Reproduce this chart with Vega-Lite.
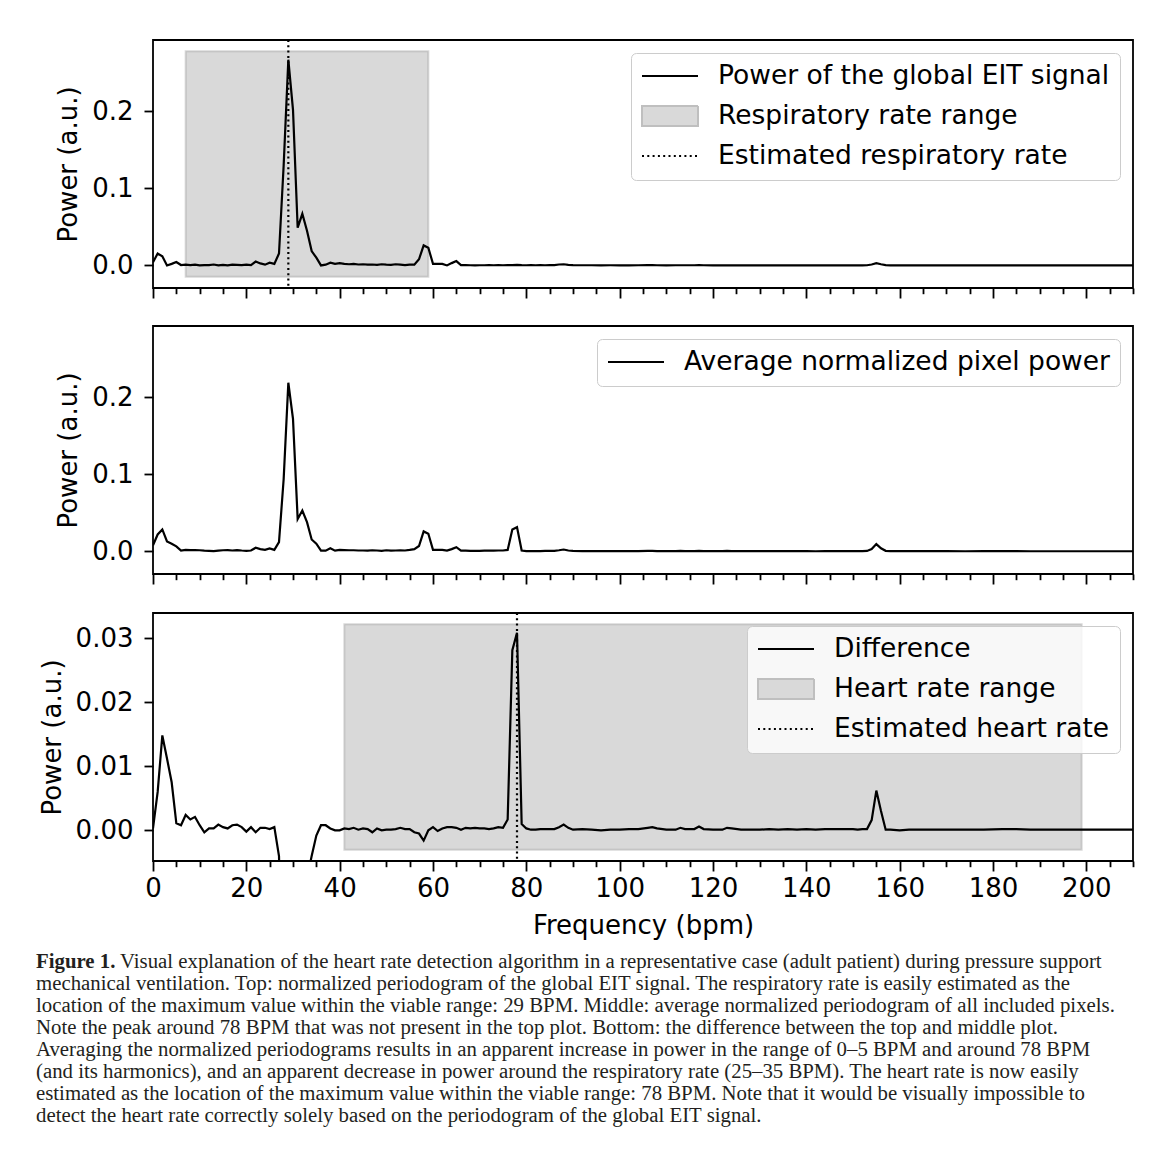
{
  "$schema": "https://vega.github.io/schema/vega-lite/v6.json",
  "background": "white",
  "padding": {"left": 36, "top": 38, "right": 10, "bottom": 10},
  "config": {
    "font": "DejaVu Sans",
    "view": {"stroke": "black", "strokeWidth": 1.8},
    "axis": {"labelFont": "DejaVu Sans", "titleFont": "DejaVu Sans", "labelFontSize": 26, "titleFontSize": 26, "titleFontWeight": "normal", "labelColor": "black", "titleColor": "black", "tickColor": "black", "tickWidth": 1.8, "domain": false, "grid": false},
    "legend": {"labelFont": "DejaVu Sans", "labelFontSize": 26.5, "labelColor": "black", "labelLimit": 1000}
  },
  "datasets": {
    "spec": [
      {"f":0,"g":0.004,"m":0.008,"d":0.0003},
      {"f":1,"g":0.0155,"m":0.022,"d":0.006},
      {"f":2,"g":0.012,"m":0.0285,"d":0.0148},
      {"f":3,"g":0.0,"m":0.013,"d":0.0112},
      {"f":4,"g":0.002,"m":0.010,"d":0.0075},
      {"f":5,"g":0.0045,"m":0.0065,"d":0.0011},
      {"f":6,"g":0.0005,"m":0.001,"d":0.0008},
      {"f":7,"g":0.001,"m":0.002,"d":0.0024},
      {"f":8,"g":0.0005,"m":0.0018,"d":0.0017},
      {"f":9,"g":0.001,"m":0.0017,"d":0.0021},
      {"f":10,"g":0.0,"m":0.0015,"d":0.0008},
      {"f":11,"g":0.0005,"m":0.001,"d":-0.0003},
      {"f":12,"g":0.0003,"m":0.0008,"d":0.0003},
      {"f":13,"g":0.0012,"m":0.0003,"d":0.0003},
      {"f":14,"g":0.0,"m":0.001,"d":0.0009},
      {"f":15,"g":0.0008,"m":0.0015,"d":0.0005},
      {"f":16,"g":0.0002,"m":0.0018,"d":0.0003},
      {"f":17,"g":0.001,"m":0.0012,"d":0.0008},
      {"f":18,"g":0.0007,"m":0.0018,"d":0.0009},
      {"f":19,"g":0.0005,"m":0.0012,"d":0.0005},
      {"f":20,"g":0.001,"m":0.0008,"d":-0.0002},
      {"f":21,"g":0.0005,"m":0.0012,"d":0.0005},
      {"f":22,"g":0.005,"m":0.0047,"d":-0.0003},
      {"f":23,"g":0.0026,"m":0.003,"d":0.0004},
      {"f":24,"g":0.001,"m":0.002,"d":0.0004},
      {"f":25,"g":0.0035,"m":0.004,"d":0.0002},
      {"f":26,"g":0.002,"m":0.002,"d":0.0005},
      {"f":27,"g":0.0155,"m":0.012,"d":-0.004},
      {"f":28,"g":0.13,"m":0.094,"d":-0.036},
      {"f":29,"g":0.267,"m":0.219,"d":-0.048},
      {"f":30,"g":0.202,"m":0.172,"d":-0.03},
      {"f":31,"g":0.049,"m":0.042,"d":-0.007},
      {"f":32,"g":0.067,"m":0.053,"d":-0.014},
      {"f":33,"g":0.045,"m":0.038,"d":-0.0075},
      {"f":34,"g":0.0186,"m":0.0155,"d":-0.004},
      {"f":35,"g":0.01,"m":0.010,"d":-0.0008},
      {"f":36,"g":0.0,"m":0.001,"d":0.0008},
      {"f":37,"g":0.001,"m":0.001,"d":0.0008},
      {"f":38,"g":0.0035,"m":0.004,"d":0.0003},
      {"f":39,"g":0.002,"m":0.001,"d":0.0},
      {"f":40,"g":0.003,"m":0.002,"d":0.0},
      {"f":41,"g":0.002,"m":0.0018,"d":0.0003},
      {"f":42,"g":0.0015,"m":0.0015,"d":0.0002},
      {"f":43,"g":0.002,"m":0.0015,"d":0.0004},
      {"f":44,"g":0.0012,"m":0.0012,"d":0.0001},
      {"f":45,"g":0.0015,"m":0.0012,"d":0.0003},
      {"f":46,"g":0.001,"m":0.001,"d":0.0002},
      {"f":47,"g":0.0012,"m":0.0015,"d":-0.0003},
      {"f":48,"g":0.0008,"m":0.0012,"d":0.0003},
      {"f":49,"g":0.0015,"m":0.0008,"d":0.0},
      {"f":50,"g":0.001,"m":0.0015,"d":0.0001},
      {"f":51,"g":0.0008,"m":0.001,"d":0.0001},
      {"f":52,"g":0.0015,"m":0.0012,"d":0.0002},
      {"f":53,"g":0.001,"m":0.0015,"d":0.0004},
      {"f":54,"g":0.0005,"m":0.0012,"d":0.0002},
      {"f":55,"g":0.001,"m":0.002,"d":0.0002},
      {"f":56,"g":0.001,"m":0.003,"d":-0.0003},
      {"f":57,"g":0.008,"m":0.007,"d":-0.0005},
      {"f":58,"g":0.026,"m":0.026,"d":-0.0016},
      {"f":59,"g":0.023,"m":0.023,"d":0.0},
      {"f":60,"g":0.002,"m":0.002,"d":0.0005},
      {"f":61,"g":0.002,"m":0.002,"d":-0.0001},
      {"f":62,"g":0.002,"m":0.002,"d":0.0003},
      {"f":63,"g":0.0,"m":0.001,"d":0.0005},
      {"f":64,"g":0.003,"m":0.003,"d":0.0005},
      {"f":65,"g":0.0056,"m":0.0055,"d":0.0004},
      {"f":66,"g":0.0005,"m":0.001,"d":0.0001},
      {"f":67,"g":0.0003,"m":0.001,"d":0.0004},
      {"f":68,"g":0.0002,"m":0.0008,"d":0.0003},
      {"f":69,"g":0.0,"m":0.0008,"d":0.0004},
      {"f":70,"g":0.0002,"m":0.0008,"d":0.0003},
      {"f":71,"g":0.0002,"m":0.001,"d":0.0003},
      {"f":72,"g":0.0003,"m":0.001,"d":0.0002},
      {"f":73,"g":0.0002,"m":0.001,"d":0.0003},
      {"f":74,"g":0.0003,"m":0.0012,"d":0.0005},
      {"f":75,"g":0.0002,"m":0.0012,"d":0.0004},
      {"f":76,"g":0.0003,"m":0.002,"d":0.0017},
      {"f":77,"g":0.0004,"m":0.0285,"d":0.0281},
      {"f":78,"g":0.0007,"m":0.0315,"d":0.0308},
      {"f":79,"g":0.0003,"m":0.0012,"d":0.001},
      {"f":80,"g":0.0002,"m":0.0005,"d":0.0003},
      {"f":81,"g":0.0003,"m":0.0005,"d":0.0001},
      {"f":82,"g":0.0002,"m":0.0005,"d":0.0001},
      {"f":83,"g":0.0003,"m":0.0005,"d":0.0002},
      {"f":84,"g":0.0002,"m":0.0006,"d":0.0002},
      {"f":85,"g":0.0003,"m":0.0006,"d":0.0002},
      {"f":86,"g":0.0005,"m":0.0008,"d":0.0002},
      {"f":87,"g":0.0012,"m":0.0015,"d":0.0005},
      {"f":88,"g":0.0015,"m":0.0025,"d":0.0009},
      {"f":89,"g":0.0008,"m":0.0012,"d":0.0004},
      {"f":90,"g":0.0003,"m":0.0006,"d":0.0001},
      {"f":92,"g":0.0002,"m":0.0005,"d":0.0002},
      {"f":94,"g":0.0002,"m":0.0004,"d":0.0001},
      {"f":96,"g":0.0001,"m":0.0004,"d":0.0},
      {"f":98,"g":0.0002,"m":0.0004,"d":0.0001},
      {"f":100,"g":0.0001,"m":0.0003,"d":0.0001},
      {"f":102,"g":0.0001,"m":0.0003,"d":0.0002},
      {"f":104,"g":0.0002,"m":0.0004,"d":0.0002},
      {"f":106,"g":0.0003,"m":0.0006,"d":0.0004},
      {"f":107,"g":0.0003,"m":0.0008,"d":0.0005},
      {"f":108,"g":0.0002,"m":0.0005,"d":0.0003},
      {"f":110,"g":0.0001,"m":0.0004,"d":0.0001},
      {"f":112,"g":0.0002,"m":0.0005,"d":0.0001},
      {"f":113,"g":0.0002,"m":0.0006,"d":0.0004},
      {"f":114,"g":0.0002,"m":0.0004,"d":0.0002},
      {"f":116,"g":0.0002,"m":0.0004,"d":0.0002},
      {"f":117,"g":0.0003,"m":0.0008,"d":0.0006},
      {"f":118,"g":0.0002,"m":0.0004,"d":0.0002},
      {"f":120,"g":0.0001,"m":0.0003,"d":0.0001},
      {"f":122,"g":0.0001,"m":0.0003,"d":0.0001},
      {"f":123,"g":0.0002,"m":0.0006,"d":0.0004},
      {"f":124,"g":0.0001,"m":0.0004,"d":0.0003},
      {"f":126,"g":0.0001,"m":0.0003,"d":0.0001},
      {"f":128,"g":0.0001,"m":0.0003,"d":0.0001},
      {"f":130,"g":0.0001,"m":0.0003,"d":0.0001},
      {"f":132,"g":0.0001,"m":0.0003,"d":0.0002},
      {"f":134,"g":0.0,"m":0.0003,"d":0.0001},
      {"f":136,"g":0.0001,"m":0.0003,"d":0.0002},
      {"f":138,"g":0.0,"m":0.0003,"d":0.0001},
      {"f":140,"g":0.0001,"m":0.0003,"d":0.0002},
      {"f":142,"g":0.0,"m":0.0002,"d":0.0001},
      {"f":144,"g":0.0001,"m":0.0003,"d":0.0002},
      {"f":146,"g":0.0001,"m":0.0003,"d":0.0002},
      {"f":148,"g":0.0001,"m":0.0003,"d":0.0002},
      {"f":150,"g":0.0001,"m":0.0003,"d":0.0002},
      {"f":151,"g":0.0001,"m":0.0003,"d":0.0001},
      {"f":152,"g":0.0001,"m":0.0004,"d":0.0002},
      {"f":153,"g":0.0002,"m":0.0006,"d":0.0002},
      {"f":154,"g":0.0012,"m":0.003,"d":0.0016},
      {"f":155,"g":0.003,"m":0.0095,"d":0.0062},
      {"f":156,"g":0.0015,"m":0.004,"d":0.003},
      {"f":157,"g":0.0003,"m":0.0008,"d":0.0001},
      {"f":158,"g":0.0001,"m":0.0003,"d":0.0001},
      {"f":160,"g":0.0001,"m":0.0003,"d":0.0},
      {"f":162,"g":0.0001,"m":0.0003,"d":0.0001},
      {"f":166,"g":0.0,"m":0.0003,"d":0.0001},
      {"f":170,"g":0.0001,"m":0.0003,"d":0.0001},
      {"f":174,"g":0.0,"m":0.0002,"d":0.0001},
      {"f":178,"g":0.0,"m":0.0003,"d":0.0001},
      {"f":182,"g":0.0001,"m":0.0003,"d":0.0002},
      {"f":185,"g":0.0001,"m":0.0003,"d":0.0002},
      {"f":188,"g":0.0,"m":0.0002,"d":0.0001},
      {"f":192,"g":0.0,"m":0.0002,"d":0.0001},
      {"f":196,"g":0.0,"m":0.0002,"d":0.0001},
      {"f":200,"g":0.0,"m":0.0002,"d":0.0001},
      {"f":205,"g":0.0,"m":0.0002,"d":0.0001},
      {"f":210,"g":0.0,"m":0.0002,"d":0.0001}
    ]
  },
  "vconcat": [
    {
      "spacing": 25,
      "resolve": {
        "scale": {"shape": "independent", "stroke": "independent", "fill": "independent", "strokeDash": "independent", "x": "independent", "y": "independent"},
        "legend": {"shape": "independent", "stroke": "independent", "fill": "independent", "strokeDash": "independent"}
      },
      "vconcat": [
        {
          "width": 980, "height": 248,
          "encoding": {
            "x": {"field": "f", "type": "quantitative", "scale": {"domain": [0, 210], "nice": false, "zero": false},
              "axis": {"values": [0,5,10,15,20,25,30,35,40,45,50,55,60,65,70,75,80,85,90,95,100,105,110,115,120,125,130,135,140,145,150,155,160,165,170,175,180,185,190,195,200,205,210], "labels": false, "title": null, "tickSize": {"condition": {"test": "datum.value % 20 === 0", "value": 10}, "value": 5.7}}}
          },
          "layer": [
            {
              "data": {"values": [{"f": 7, "f2": 59, "v": -0.0147, "v2": 0.278}]},
              "mark": {"type": "rect", "fill": "gray", "fillOpacity": 0.3, "stroke": "gray", "strokeOpacity": 0.3, "strokeWidth": 2},
              "encoding": {
                "x2": {"field": "f2"},
                "y": {"field": "v", "type": "quantitative", "scale": {"domain": [-0.0293, 0.2926], "nice": false, "zero": false}, "axis": {"values": [0, 0.1, 0.2], "format": ".1f", "title": "Power (a.u.)", "tickSize": 9, "labelPadding": 11, "titlePadding": 10}},
                "y2": {"field": "v2"}
              }
            },
            {
              "data": {"name": "spec"},
              "mark": {"type": "line", "color": "black", "strokeWidth": 2.2, "clip": true},
              "encoding": {"y": {"field": "g", "type": "quantitative", "scale": {"domain": [-0.0293, 0.2926], "nice": false, "zero": false}}}
            },
            {
              "data": {"values": [{"f": 29}]},
              "mark": {"type": "rule", "color": "black", "strokeWidth": 2.2, "strokeDash": [2, 3.3]},
              "encoding": {}
            },
            {
              "data": {"values": [{"item": "Power of the global EIT signal"}, {"item": "Respiratory rate range"}, {"item": "Estimated respiratory rate"}]},
              "transform": [{"filter": "false"}],
              "mark": {"type": "point", "filled": true, "opacity": 1, "size": 3136, "strokeWidth": 2},
              "encoding": {
                "shape": {"field": "item", "type": "nominal", "scale": {"domain": ["Power of the global EIT signal", "Respiratory rate range", "Estimated respiratory rate"], "range": ["M-1,0H1", "M-1,-0.36H1V0.36H-1Z", "M-1,0H1"]},
                  "legend": {"title": null, "orient": "top-right", "offset": 13, "padding": 10, "fillColor": "rgba(255,255,255,0.8)", "strokeColor": "#cccccc", "cornerRadius": 5, "symbolSize": 3136, "symbolStrokeWidth": 2, "symbolOpacity": 1, "labelOffset": 19, "rowPadding": 13, "clipHeight": 26}},
                "stroke": {"field": "item", "type": "nominal", "scale": {"domain": ["Power of the global EIT signal", "Respiratory rate range", "Estimated respiratory rate"], "range": ["#000000", "#bfbfbf", "#000000"]},
                  "legend": {"title": null, "orient": "top-right", "offset": 13, "padding": 10, "fillColor": "rgba(255,255,255,0.8)", "strokeColor": "#cccccc", "cornerRadius": 5, "symbolSize": 3136, "symbolStrokeWidth": 2, "symbolOpacity": 1, "labelOffset": 19, "rowPadding": 13, "clipHeight": 26}},
                "fill": {"field": "item", "type": "nominal", "scale": {"domain": ["Power of the global EIT signal", "Respiratory rate range", "Estimated respiratory rate"], "range": ["transparent", "#d9d9d9", "transparent"]},
                  "legend": {"title": null, "orient": "top-right", "offset": 13, "padding": 10, "fillColor": "rgba(255,255,255,0.8)", "strokeColor": "#cccccc", "cornerRadius": 5, "symbolSize": 3136, "symbolStrokeWidth": 2, "symbolOpacity": 1, "labelOffset": 19, "rowPadding": 13, "clipHeight": 26}},
                "strokeDash": {"field": "item", "type": "nominal", "scale": {"domain": ["Power of the global EIT signal", "Respiratory rate range", "Estimated respiratory rate"], "range": [[1, 0], [1, 0], [2, 3.3]]},
                  "legend": {"title": null, "orient": "top-right", "offset": 13, "padding": 10, "fillColor": "rgba(255,255,255,0.8)", "strokeColor": "#cccccc", "cornerRadius": 5, "symbolSize": 3136, "symbolStrokeWidth": 2, "symbolOpacity": 1, "labelOffset": 19, "rowPadding": 13, "clipHeight": 26}}
              }
            }
          ]
        },
        {
          "width": 980, "height": 248,
          "encoding": {
            "x": {"field": "f", "type": "quantitative", "scale": {"domain": [0, 210], "nice": false, "zero": false},
              "axis": {"values": [0,5,10,15,20,25,30,35,40,45,50,55,60,65,70,75,80,85,90,95,100,105,110,115,120,125,130,135,140,145,150,155,160,165,170,175,180,185,190,195,200,205,210], "labels": false, "title": null, "tickSize": {"condition": {"test": "datum.value % 20 === 0", "value": 10}, "value": 5.7}}}
          },
          "layer": [
            {
              "data": {"name": "spec"},
              "mark": {"type": "line", "color": "black", "strokeWidth": 2.2, "clip": true},
              "encoding": {"y": {"field": "m", "type": "quantitative", "scale": {"domain": [-0.0293, 0.2926], "nice": false, "zero": false}, "axis": {"values": [0, 0.1, 0.2], "format": ".1f", "title": "Power (a.u.)", "tickSize": 9, "labelPadding": 11, "titlePadding": 10}}}
            },
            {
              "data": {"values": [{"item": "Average normalized pixel power"}]},
              "transform": [{"filter": "false"}],
              "mark": {"type": "point", "filled": true, "opacity": 1, "size": 3136, "strokeWidth": 2},
              "encoding": {
                "shape": {"field": "item", "type": "nominal", "scale": {"domain": ["Average normalized pixel power"], "range": ["M-1,0H1"]},
                  "legend": {"title": null, "orient": "top-right", "offset": 13, "padding": 10, "fillColor": "rgba(255,255,255,0.8)", "strokeColor": "#cccccc", "cornerRadius": 5, "symbolSize": 3136, "symbolStrokeWidth": 2, "symbolOpacity": 1, "labelOffset": 19, "rowPadding": 13, "clipHeight": 26}},
                "stroke": {"field": "item", "type": "nominal", "scale": {"domain": ["Average normalized pixel power"], "range": ["#000000"]},
                  "legend": {"title": null, "orient": "top-right", "offset": 13, "padding": 10, "fillColor": "rgba(255,255,255,0.8)", "strokeColor": "#cccccc", "cornerRadius": 5, "symbolSize": 3136, "symbolStrokeWidth": 2, "symbolOpacity": 1, "labelOffset": 19, "rowPadding": 13, "clipHeight": 26}}
              }
            }
          ]
        },
        {
          "width": 980, "height": 248,
          "encoding": {
            "x": {"field": "f", "type": "quantitative", "scale": {"domain": [0, 210], "nice": false, "zero": false},
              "axis": {"values": [0,5,10,15,20,25,30,35,40,45,50,55,60,65,70,75,80,85,90,95,100,105,110,115,120,125,130,135,140,145,150,155,160,165,170,175,180,185,190,195,200,205,210], "format": "d", "labelExpr": "datum.value % 20 === 0 ? datum.label : ''", "labelOverlap": false, "labelFlush": false, "labelPadding": 4, "title": "Frequency (bpm)", "titlePadding": 11, "tickSize": {"condition": {"test": "datum.value % 20 === 0", "value": 10}, "value": 5.7}}}
          },
          "layer": [
            {
              "data": {"values": [{"f": 41, "f2": 199, "v": -0.00302, "v2": 0.03214}]},
              "mark": {"type": "rect", "fill": "gray", "fillOpacity": 0.3, "stroke": "gray", "strokeOpacity": 0.3, "strokeWidth": 2},
              "encoding": {
                "x2": {"field": "f2"},
                "y": {"field": "v", "type": "quantitative", "scale": {"domain": [-0.00478, 0.0339], "nice": false, "zero": false}, "axis": {"values": [0, 0.01, 0.02, 0.03], "format": ".2f", "title": "Power (a.u.)", "tickSize": 9, "labelPadding": 11, "titlePadding": 10}},
                "y2": {"field": "v2"}
              }
            },
            {
              "data": {"name": "spec"},
              "mark": {"type": "line", "color": "black", "strokeWidth": 2.2, "clip": true},
              "encoding": {"y": {"field": "d", "type": "quantitative", "scale": {"domain": [-0.00478, 0.0339], "nice": false, "zero": false}}}
            },
            {
              "data": {"values": [{"f": 78}]},
              "mark": {"type": "rule", "color": "black", "strokeWidth": 2.2, "strokeDash": [2, 3.3]},
              "encoding": {}
            },
            {
              "data": {"values": [{"item": "Difference"}, {"item": "Heart rate range"}, {"item": "Estimated heart rate"}]},
              "transform": [{"filter": "false"}],
              "mark": {"type": "point", "filled": true, "opacity": 1, "size": 3136, "strokeWidth": 2},
              "encoding": {
                "shape": {"field": "item", "type": "nominal", "scale": {"domain": ["Difference", "Heart rate range", "Estimated heart rate"], "range": ["M-1,0H1", "M-1,-0.36H1V0.36H-1Z", "M-1,0H1"]},
                  "legend": {"title": null, "orient": "top-right", "offset": 13, "padding": 10, "fillColor": "rgba(255,255,255,0.8)", "strokeColor": "#cccccc", "cornerRadius": 5, "symbolSize": 3136, "symbolStrokeWidth": 2, "symbolOpacity": 1, "labelOffset": 19, "rowPadding": 13, "clipHeight": 26}},
                "stroke": {"field": "item", "type": "nominal", "scale": {"domain": ["Difference", "Heart rate range", "Estimated heart rate"], "range": ["#000000", "#bfbfbf", "#000000"]},
                  "legend": {"title": null, "orient": "top-right", "offset": 13, "padding": 10, "fillColor": "rgba(255,255,255,0.8)", "strokeColor": "#cccccc", "cornerRadius": 5, "symbolSize": 3136, "symbolStrokeWidth": 2, "symbolOpacity": 1, "labelOffset": 19, "rowPadding": 13, "clipHeight": 26}},
                "fill": {"field": "item", "type": "nominal", "scale": {"domain": ["Difference", "Heart rate range", "Estimated heart rate"], "range": ["transparent", "#d9d9d9", "transparent"]},
                  "legend": {"title": null, "orient": "top-right", "offset": 13, "padding": 10, "fillColor": "rgba(255,255,255,0.8)", "strokeColor": "#cccccc", "cornerRadius": 5, "symbolSize": 3136, "symbolStrokeWidth": 2, "symbolOpacity": 1, "labelOffset": 19, "rowPadding": 13, "clipHeight": 26}},
                "strokeDash": {"field": "item", "type": "nominal", "scale": {"domain": ["Difference", "Heart rate range", "Estimated heart rate"], "range": [[1, 0], [1, 0], [2, 3.3]]},
                  "legend": {"title": null, "orient": "top-right", "offset": 13, "padding": 10, "fillColor": "rgba(255,255,255,0.8)", "strokeColor": "#cccccc", "cornerRadius": 5, "symbolSize": 3136, "symbolStrokeWidth": 2, "symbolOpacity": 1, "labelOffset": 19, "rowPadding": 13, "clipHeight": 26}}
              }
            }
          ]
        }
      ]
    },
    {
      "width": 980, "height": 176,
      "view": {"stroke": null},
      "data": {"values": [
        {"line": 1, "part": "label", "text": "Figure 1."},
        {"line": 1, "part": "body", "text": "Visual explanation of the heart rate detection algorithm in a representative case (adult patient) during pressure support"},
        {"line": 2, "part": "body", "text": "mechanical ventilation. Top: normalized periodogram of the global EIT signal. The respiratory rate is easily estimated as the"},
        {"line": 3, "part": "body", "text": "location of the maximum value within the viable range: 29 BPM. Middle: average normalized periodogram of all included pixels."},
        {"line": 4, "part": "body", "text": "Note the peak around 78 BPM that was not present in the top plot. Bottom: the difference between the top and middle plot."},
        {"line": 5, "part": "body", "text": "Averaging the normalized periodograms results in an apparent increase in power in the range of 0–5 BPM and around 78 BPM"},
        {"line": 6, "part": "body", "text": "(and its harmonics), and an apparent decrease in power around the respiratory rate (25–35 BPM). The heart rate is now easily"},
        {"line": 7, "part": "body", "text": "estimated as the location of the maximum value within the viable range: 78 BPM. Note that it would be visually impossible to"},
        {"line": 8, "part": "body", "text": "detect the heart rate correctly solely based on the periodogram of the global EIT signal."}
      ]},
      "encoding": {
        "x": {"datum": 0, "type": "quantitative", "scale": {"domain": [0, 1]}, "axis": null},
        "y": {"field": "line", "type": "ordinal", "scale": {"type": "point", "padding": 0.5, "domain": [1, 2, 3, 4, 5, 6, 7, 8]}, "axis": null},
        "text": {"field": "text"}
      },
      "layer": [
        {"transform": [{"filter": "datum.part == 'label'"}], "mark": {"type": "text", "align": "left", "baseline": "middle", "font": "Liberation Serif", "fontSize": 20.8, "fontWeight": "bold", "dx": -117, "color": "#231f20"}},
        {"transform": [{"filter": "datum.part == 'body' && datum.line == 1"}], "mark": {"type": "text", "align": "left", "baseline": "middle", "font": "Liberation Serif", "fontSize": 20.8, "dx": -33, "color": "#231f20"}},
        {"transform": [{"filter": "datum.part == 'body' && datum.line > 1"}], "mark": {"type": "text", "align": "left", "baseline": "middle", "font": "Liberation Serif", "fontSize": 20.8, "dx": -117, "color": "#231f20"}}
      ]
    }
  ],
  "spacing": 12
}
